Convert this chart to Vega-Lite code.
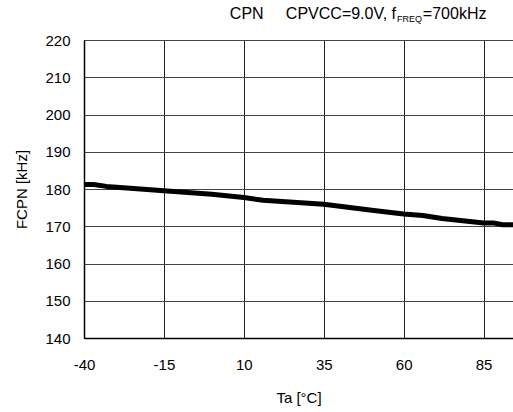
{
  "$schema": "https://vega.github.io/schema/vega-lite/v6.json",
  "width": 429,
  "height": 298,
  "autosize": {"type": "none"},
  "padding": {"left": 84, "top": 40, "right": 0, "bottom": 74},
  "config": {
    "font": "Liberation Sans",
    "view": {"stroke": null},
    "axis": {"labelFont": "Liberation Sans", "titleFont": "Liberation Sans", "labelColor": "#000", "titleColor": "#000", "labelFontSize": 15, "titleFontSize": 15, "titleFontWeight": "normal", "labelOverlap": false}
  },
  "resolve": {"axis": {"x": "independent", "y": "independent"}},
  "layer": [
    {
      "data": {
        "values": [
          {"ta": -40, "f": 181.2},
          {"ta": -37, "f": 181.2},
          {"ta": -33, "f": 180.7},
          {"ta": -15, "f": 179.5},
          {"ta": 0, "f": 178.6},
          {"ta": 10, "f": 177.7},
          {"ta": 16, "f": 177.0},
          {"ta": 35, "f": 175.9},
          {"ta": 50, "f": 174.3},
          {"ta": 60, "f": 173.3},
          {"ta": 66, "f": 172.9},
          {"ta": 72, "f": 172.1},
          {"ta": 85, "f": 170.9},
          {"ta": 88, "f": 170.9},
          {"ta": 91, "f": 170.4},
          {"ta": 95, "f": 170.4}
        ]
      },
      "mark": {"type": "line", "color": "#000", "strokeWidth": 5, "clip": true, "strokeJoin": "round"},
      "encoding": {
        "x": {
          "field": "ta", "type": "quantitative",
          "scale": {"domain": [-40, 94.2], "nice": false, "zero": false},
          "axis": {
            "values": [-40, -15, 10, 35, 60, 85],
            "labelExpr": "'' + datum.value",
            "title": "Ta [°C]",
            "grid": true, "gridColor": "#222", "gridWidth": 1, "gridOpacity": 1,
            "domainColor": "#000", "domainWidth": 1.5,
            "ticks": false, "labelPadding": 19, "titlePadding": 18,
            "labelFlush": false
          }
        },
        "y": {
          "field": "f", "type": "quantitative",
          "scale": {"domain": [140, 220], "nice": false, "zero": false},
          "axis": {
            "values": [140, 150, 160, 170, 180, 190, 200, 210, 220],
            "title": "FCPN [kHz]",
            "grid": true, "gridColor": "#444", "gridWidth": 1, "gridOpacity": 1,
            "domainColor": "#000", "domainWidth": 1.5,
            "ticks": false, "labelPadding": 14, "titlePadding": 15,
            "labelFlush": false
          }
        }
      }
    },
    {
      "data": {"values": [{"part": "CPN\u00a0\u00a0\u00a0\u00a0\u00a0CPVCC=9.0V, f"}]},
      "mark": {"type": "text", "align": "right", "baseline": "alphabetic", "fontSize": 16, "fontWeight": "normal", "color": "#000", "clip": false},
      "encoding": {"text": {"field": "part"}, "x": {"datum": 57.6, "axis": null}, "y": {"datum": 225.6, "axis": null}}
    },
    {
      "data": {"values": [{"part": "FREQ"}]},
      "mark": {"type": "text", "align": "left", "baseline": "alphabetic", "fontSize": 9, "fontWeight": "normal", "dy": 3, "color": "#000", "clip": false},
      "encoding": {"text": {"field": "part"}, "x": {"datum": 57.9, "axis": null}, "y": {"datum": 225.6, "axis": null}}
    },
    {
      "data": {"values": [{"part": "=700kHz"}]},
      "mark": {"type": "text", "align": "left", "baseline": "alphabetic", "fontSize": 16, "fontWeight": "normal", "color": "#000", "clip": false},
      "encoding": {"text": {"field": "part"}, "x": {"datum": 66.0, "axis": null}, "y": {"datum": 225.6, "axis": null}}
    }
  ]
}
